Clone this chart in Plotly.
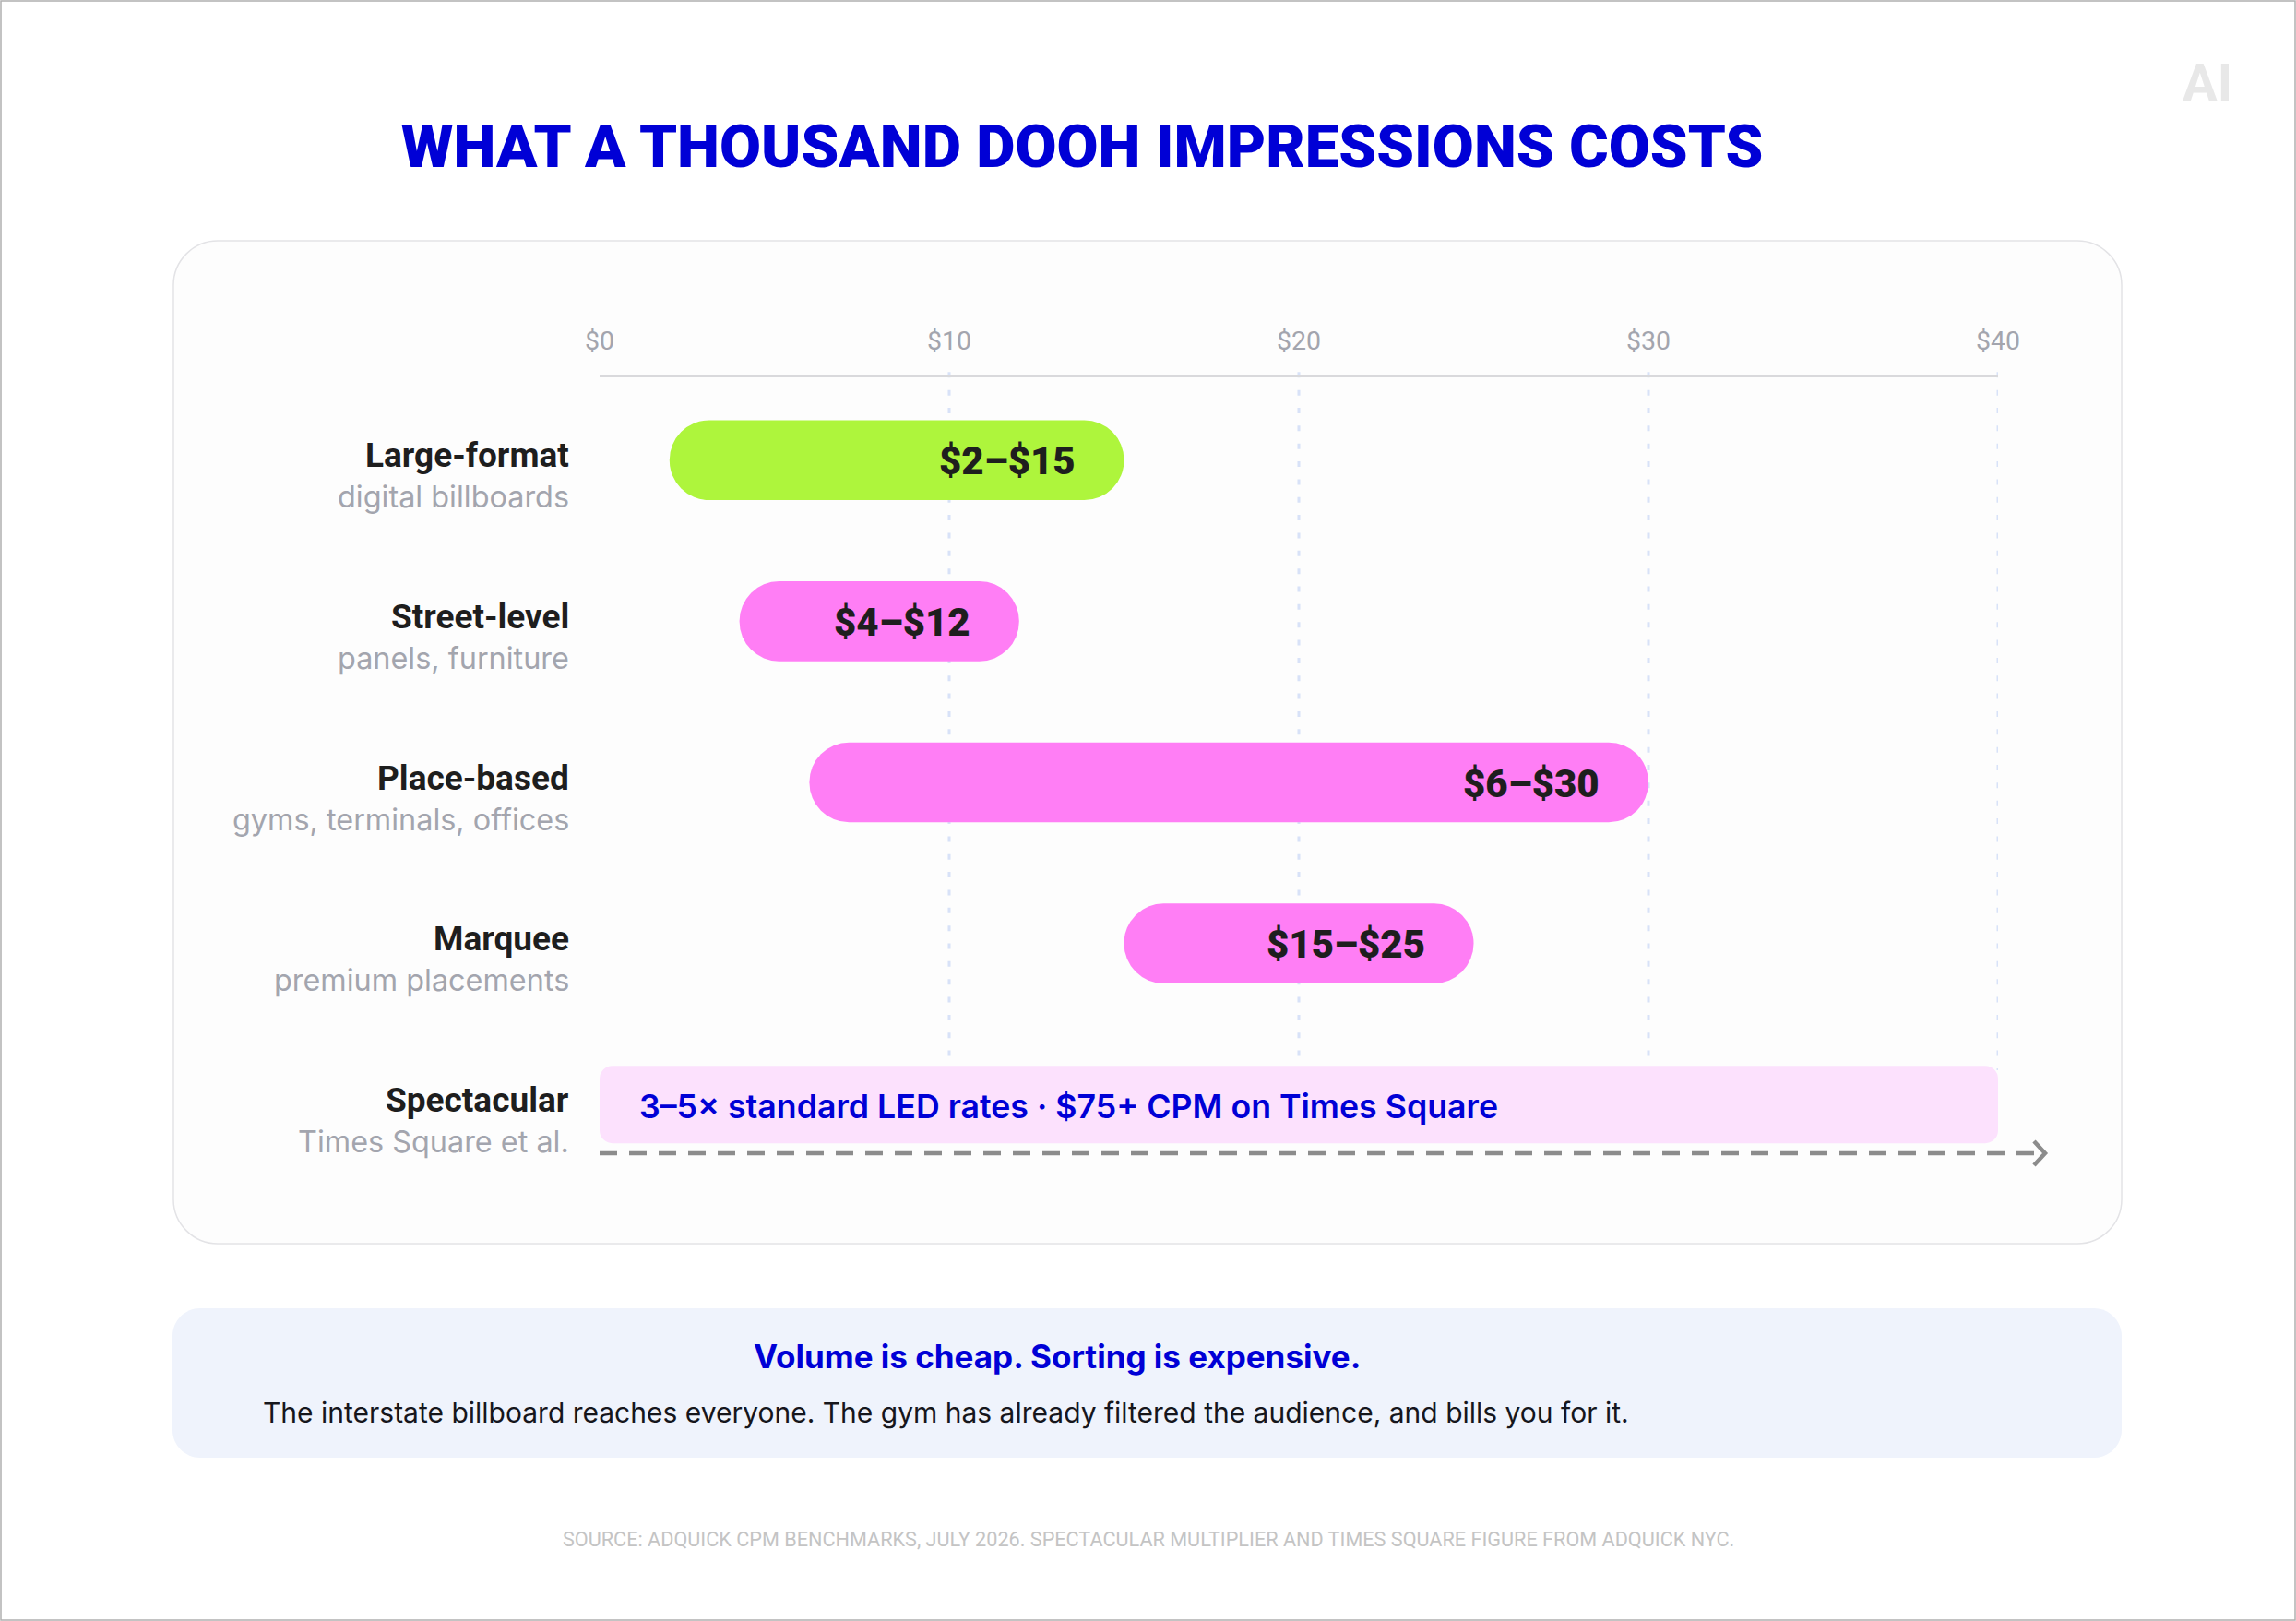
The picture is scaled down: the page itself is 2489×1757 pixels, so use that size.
import plotly.graph_objects as go

# --- DATA ---
ROWS = ["Large-format", "Street-level", "Place-based", "Marquee", "Spectacular"]
SUBLABELS = ["digital billboards", "panels, furniture", "gyms, terminals, offices",
             "premium placements", "Times Square et al."]
RANGE_LO = [2, 4, 6, 15]
RANGE_HI = [15, 12, 30, 25]
RANGE_TEXT = ["$2–$15", "$4–$12", "$6–$30", "$15–$25"]
RANGE_COLORS = ["#aef53c", "#ff7ef5", "#ff7ef5", "#ff7ef5"]
SPECTACULAR_SPAN = [0, 40]
SPECTACULAR_NOTE = "3–5× standard LED rates · $75+ CPM on Times Square"
TICK_VALS = [0, 10, 20, 30, 40]
TICK_TEXT = ["$0", "$10", "$20", "$30", "$40"]
GRID_VALS = [10, 20, 30, 40]

TITLE = "WHAT A THOUSAND DOOH IMPRESSIONS COSTS"
CALLOUT_HEAD = "Volume is cheap. Sorting is expensive."
CALLOUT_BODY = "The interstate billboard reaches everyone. The gym has already filtered the audience, and bills you for it."
SOURCE = "SOURCE: ADQUICK CPM BENCHMARKS, JULY 2026. SPECTACULAR MULTIPLIER AND TIMES SQUARE FIGURE FROM ADQUICK NYC."

# --- PAGE GEOMETRY (pixels) ---
W, H = 2489, 1757
PLOT_L, PLOT_R = 650, 2166
PLOT_T, PLOT_B = 408.5, 1262
ROW0_Y = 498.8
ROW_STEP = 174.6

BLUE = "#0000d6"
GREY = "#a3a5ae"
INK = "#1e1e1e"
HEAD = "Roboto"
BODY = "Inter"


def px(x):
    return x / W


def py(y):
    return 1 - y / H


def round_box(x0, y0, x1, y1, r):
    # rounded rectangle as a path in paper coordinates
    k = r * 0.45
    pts = [
        f"M {px(x0 + r)} {py(y0)}", f"L {px(x1 - r)} {py(y0)}",
        f"C {px(x1 - k)} {py(y0)} {px(x1)} {py(y0 + k)} {px(x1)} {py(y0 + r)}",
        f"L {px(x1)} {py(y1 - r)}",
        f"C {px(x1)} {py(y1 - k)} {px(x1 - k)} {py(y1)} {px(x1 - r)} {py(y1)}",
        f"L {px(x0 + r)} {py(y1)}",
        f"C {px(x0 + k)} {py(y1)} {px(x0)} {py(y1 - k)} {px(x0)} {py(y1 - r)}",
        f"L {px(x0)} {py(y0 + r)}",
        f"C {px(x0)} {py(y0 + k)} {px(x0 + k)} {py(y0)} {px(x0 + r)} {py(y0)}",
        "Z",
    ]
    return " ".join(pts)


fig = go.Figure()

# range pills
fig.add_trace(go.Bar(
    y=ROWS[:4], base=RANGE_LO, x=[h - l for l, h in zip(RANGE_LO, RANGE_HI)],
    orientation="h", width=0.496, hoverinfo="skip",
    marker=dict(color=RANGE_COLORS, cornerradius=43, line_width=0),
))
# spectacular band
fig.add_trace(go.Bar(
    y=ROWS[4:], base=SPECTACULAR_SPAN[:1], x=[SPECTACULAR_SPAN[1] - SPECTACULAR_SPAN[0]],
    orientation="h", width=0.481, hoverinfo="skip",
    marker=dict(color="#fce1fd", cornerradius=14, line_width=0),
))

shapes = [
    dict(type="rect", xref="paper", yref="paper", x0=px(1), x1=px(W - 1), y0=py(1), y1=py(H - 1),
         line=dict(color="#b0b0b0", width=1.5), layer="below"),
    dict(type="path", xref="paper", yref="paper", path=round_box(188, 261, 2300, 1348, 48),
         fillcolor="#fdfdfd", line=dict(color="#e3e3e6", width=1.5), layer="below"),
    dict(type="path", xref="paper", yref="paper", path=round_box(187, 1418, 2300, 1580, 30),
         fillcolor="#eff3fc", line_width=0, layer="below"),
]
for v in GRID_VALS:
    shapes.append(dict(type="line", xref="x", yref="paper", x0=v, x1=v, y0=py(403.3), y1=py(1160),
                       line=dict(color="#d8e2f8", width=3, dash="6px,13.35px"), layer="below"))
# open-ended dashed arrow below the spectacular band
shapes.append(dict(type="line", xref="paper", yref="paper", x0=px(650), x1=px(2214), y0=py(1250), y1=py(1250),
                   line=dict(color="#8c8c8c", width=4.5, dash="19px,13px")))
shapes.append(dict(type="path", xref="paper", yref="paper",
                   path=f"M {px(2205)} {py(1237)} L {px(2217)} {py(1250)} L {px(2205)} {py(1263)}",
                   line=dict(color="#8c8c8c", width=4.5)))

ann = []
for name, sub in zip(ROWS, SUBLABELS):
    ann.append(dict(text=name, xref="paper", yref="y", x=px(619), y=name, xanchor="right", yanchor="middle",
                    yshift=5, showarrow=False, font=dict(family=HEAD, size=37, color=INK, weight=700)))
    ann.append(dict(text=sub, xref="paper", yref="y", x=px(619), y=name, xanchor="right", yanchor="middle",
                    yshift=-40, showarrow=False, font=dict(family=BODY, size=32.4, color=GREY)))
for name, hi, txt in zip(ROWS, RANGE_HI, RANGE_TEXT):
    ann.append(dict(text=txt, xref="x", yref="y", x=hi, y=name, xanchor="right", yanchor="middle",
                    xshift=-51, yshift=-1, showarrow=False, font=dict(family=HEAD, size=42, color=INK, weight=900)))
ann.append(dict(text=SPECTACULAR_NOTE, xref="paper", yref="y", x=px(691), y=ROWS[4], xanchor="left",
                yanchor="middle", yshift=-1.5, showarrow=False, font=dict(family=BODY, size=35.7, color=BLUE, weight=600)))
ann.append(dict(text=CALLOUT_HEAD, xref="paper", yref="paper", x=px(1146), y=py(1470), xanchor="center",
                yanchor="middle", showarrow=False, font=dict(family=BODY, size=35, color=BLUE, weight=700)))
ann.append(dict(text=CALLOUT_BODY, xref="paper", yref="paper", x=px(283), y=py(1531), xanchor="left",
                yanchor="middle", showarrow=False, font=dict(family=BODY, size=30, color="#16161c")))
ann.append(dict(text=SOURCE, xref="paper", yref="paper", x=px(1245), y=py(1668), xanchor="center",
                yanchor="middle", showarrow=False, font=dict(family=HEAD, size=21.65, color="#c4c4c4")))
ann.append(dict(text="AI", xref="paper", yref="paper", x=px(2393), y=py(90), xanchor="center",
                yanchor="middle", showarrow=False, font=dict(family=HEAD, size=56, color="#e8e8e8", weight=700)))

fig.update_layout(
    width=W, height=H,
    margin=dict(l=0, r=0, t=0, b=0, autoexpand=False),
    paper_bgcolor="#ffffff", plot_bgcolor="rgba(0,0,0,0)",
    barmode="overlay", showlegend=False,
    title=dict(text=TITLE, x=px(1173), xref="paper", xanchor="center", y=py(158), yref="paper", yanchor="middle",
               font=dict(family=HEAD, size=65.3, color=BLUE, weight=900)),
    xaxis=dict(domain=[px(PLOT_L), px(PLOT_R)], range=[0, 40], side="top", automargin=False,
               tickmode="array", tickvals=TICK_VALS, ticktext=TICK_TEXT, ticks="", ticklabelstandoff=15,
               tickfont=dict(family=HEAD, size=28.5, color=GREY),
               showgrid=False, zeroline=False, showline=True, linecolor="#d9d9dc", linewidth=3),
    yaxis=dict(domain=[py(PLOT_B), py(PLOT_T)], type="category", categoryorder="array", categoryarray=ROWS,
               range=[(PLOT_B - ROW0_Y) / ROW_STEP, (PLOT_T - ROW0_Y) / ROW_STEP], automargin=False,
               showticklabels=False, showgrid=False, zeroline=False, showline=False, ticks=""),
    shapes=shapes, annotations=ann,
)

fig.write_html("out.html", post_script="document.body.style.margin='0';", config=dict(displayModeBar=False))
